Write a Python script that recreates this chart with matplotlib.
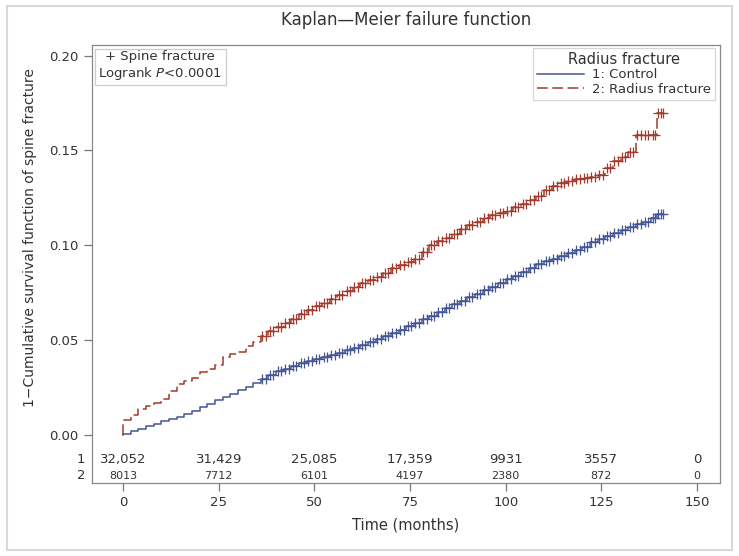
import matplotlib
matplotlib.use("Agg")
import matplotlib.pyplot as plt
from matplotlib.lines import Line2D
from matplotlib.patches import Rectangle

plt.rcParams['font.family'] = ['DejaVu Sans']
plt.rcParams['mathtext.fontset'] = 'custom'
plt.rcParams['mathtext.it'] = 'DejaVu Sans:italic'

# step times (months) and cumulative failure for each group
times = list(range(0, 140, 2)) + [139.5]
end_time = 141

control = [0.0005, 0.0020, 0.0033, 0.0045, 0.0058, 0.0072, 0.0085, 0.0097, 0.0110, 0.0125,
           0.0145, 0.0165, 0.0182, 0.0200, 0.0217, 0.0235, 0.0255, 0.0275, 0.0295, 0.0318,
           0.0336, 0.0350, 0.0365, 0.0380, 0.0392, 0.0400, 0.0410, 0.0420, 0.0433, 0.0447,
           0.0461, 0.0475, 0.0490, 0.0505, 0.0520, 0.0537, 0.0555, 0.0572, 0.0592, 0.0610,
           0.0628, 0.0648, 0.0668, 0.0688, 0.0708, 0.0726, 0.0744, 0.0762, 0.0782, 0.0802,
           0.0822, 0.0840, 0.0860, 0.0882, 0.0902, 0.0918, 0.0930, 0.0942, 0.0958, 0.0975,
           0.0992, 0.1018, 0.1032, 0.1050, 0.1066, 0.1082, 0.1098, 0.1112, 0.1124, 0.1145,
           0.1163]

radius = [0.0080, 0.0105, 0.0135, 0.0155, 0.0170, 0.0190, 0.0230, 0.0270, 0.0285, 0.0300,
          0.0330, 0.0350, 0.0370, 0.0410, 0.0425, 0.0440, 0.0470, 0.0490, 0.0520, 0.0550,
          0.0570, 0.0590, 0.0610, 0.0640, 0.0660, 0.0680, 0.0697, 0.0715, 0.0740, 0.0760,
          0.0780, 0.0800, 0.0815, 0.0835, 0.0855, 0.0880, 0.0895, 0.0910, 0.0930, 0.0965,
          0.1000, 0.1022, 0.1040, 0.1060, 0.1085, 0.1105, 0.1125, 0.1145, 0.1160, 0.1170,
          0.1180, 0.1200, 0.1220, 0.1237, 0.1260, 0.1290, 0.1310, 0.1330, 0.1340, 0.1348,
          0.1355, 0.1362, 0.1372, 0.1410, 0.1445, 0.1465, 0.1490, 0.1580, 0.1580, 0.1580,
          0.1700]

censor_start = 36

risk_times = [0, 25, 50, 75, 100, 125, 150]
risk_control = ['32,052', '31,429', '25,085', '17,359', '9931', '3557', '0']
risk_radius = ['8013', '7712', '6101', '4197', '2380', '872', '0']

blue = '#445694'
red = '#A23A2E'
grey = '#333333'

fig = plt.figure(figsize=(7.39, 5.56), dpi=100)
ax = fig.add_axes([0.1241, 0.1313, 0.8502, 0.7878])


def draw_group(vals, color, ls):
    xs = [0] + times + [end_time]
    ys = [0] + vals + [vals[-1]]
    ax.step(xs, ys, where='post', color=color, lw=1.1, ls=ls)
    cx, cy = [], []
    for i, t in enumerate(times):
        if t >= censor_start:
            nxt = times[i + 1] if i + 1 < len(times) else end_time
            cx += [t + 0.4, (t + nxt) / 2 + 0.3]
            cy += [vals[i], vals[i]]
    cx.append(end_time)
    cy.append(vals[-1])
    ax.plot(cx, cy, ls='none', marker='+', ms=7, mew=0.9, color=color)


draw_group(control, blue, '-')
draw_group(radius, red, (0, (7, 3)))

ax.set_xlim(-8.2, 156)
ax.set_ylim(-0.0253, 0.2056)
ax.set_xticks([0, 25, 50, 75, 100, 125, 150])
ax.set_yticks([0.0, 0.05, 0.10, 0.15, 0.20])
ax.set_yticklabels(['0.00', '0.05', '0.10', '0.15', '0.20'])
ax.tick_params(colors='#777777', labelcolor=grey, labelsize=9.5, length=6, width=0.9)
for s in ax.spines.values():
    s.set_color('#888888')
    s.set_linewidth(0.9)

ax.set_xlabel('Time (months)', fontsize=10.5, color=grey, labelpad=6)
ax.set_ylabel('1\u2212Cumulative survival function of spine fracture',
              fontsize=10, color=grey, labelpad=10)
ax.yaxis.set_label_coords(-0.087, 0.56)

# numbers at risk
for t, a, b in zip(risk_times, risk_control, risk_radius):
    ax.text(t, -0.0127, a, ha='center', va='center', fontsize=9.5, color=grey)
    ax.text(t, -0.0216, b, ha='center', va='center', fontsize=8, color=grey)
ax.text(-0.010, -0.0127, '1', transform=ax.get_yaxis_transform(), ha='right',
        va='center', fontsize=9.5, color=grey)
ax.text(-0.010, -0.0216, '2', transform=ax.get_yaxis_transform(), ha='right',
        va='center', fontsize=9.5, color=grey)

ax.text(0.0105, 0.988, '+ Spine fracture\nLogrank $\\mathit{P}$<0.0001',
        transform=ax.transAxes, ha='left', va='top', multialignment='center',
        fontsize=9.5, color=grey, linespacing=1.15,
        bbox=dict(boxstyle='square,pad=0.25', fc='white', ec='#cccccc', lw=0.9))

handles = [Line2D([], [], color=blue, lw=1.1),
           Line2D([], [], color=red, lw=1.1, ls=(0, (7, 3)))]
leg = ax.legend(handles, ['1: Control', '2: Radius fracture'], title='Radius fracture',
                loc='upper right', bbox_to_anchor=(0.992, 0.993), fontsize=9.5,
                title_fontsize=10.5, frameon=True, fancybox=False, handlelength=3.6,
                borderpad=0.3, labelspacing=0.1, handletextpad=0.6, borderaxespad=0)
leg.get_frame().set_edgecolor('#cccccc')
leg.get_frame().set_linewidth(0.9)
for txt in leg.get_texts():
    txt.set_color(grey)
leg.get_title().set_color(grey)

fig.text(0.549, 1 - 20 / 556, 'Kaplan\u2014Meier failure function', ha='center',
         va='center', fontsize=12, color=grey)

fig.patches.append(Rectangle((7 / 739, 6 / 556), 725 / 739, 544 / 556,
                             transform=fig.transFigure, fill=False,
                             ec='#d9d9d9', lw=1.5))

fig.savefig('out.png', dpi=100)
